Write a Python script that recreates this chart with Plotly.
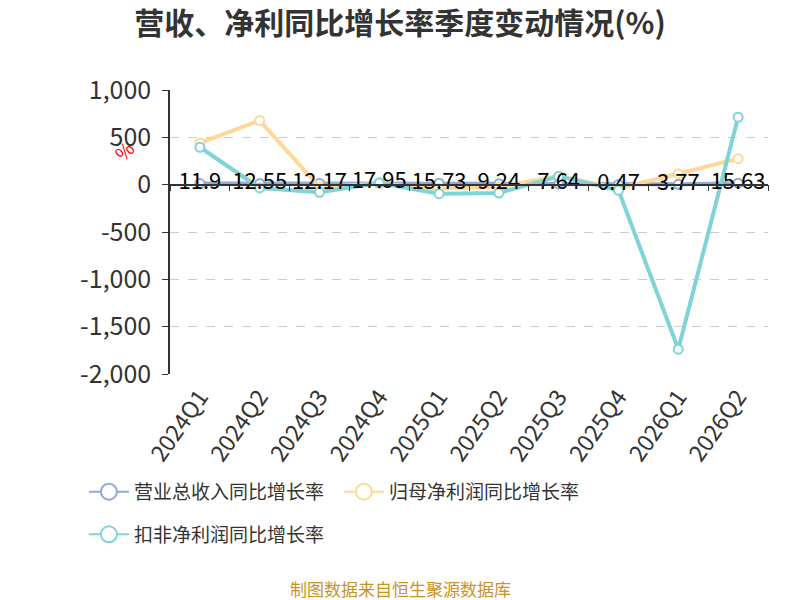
import plotly.graph_objects as go

# 数据
quarters = ["2024Q1", "2024Q2", "2024Q3", "2024Q4", "2025Q1",
            "2025Q2", "2025Q3", "2025Q4", "2026Q1", "2026Q2"]
revenue_yoy = [11.9, 12.55, 12.17, 17.95, 15.73, 9.24, 7.64, 0.47, 3.77, 15.63]
net_profit_yoy = [441, 677, -25, 10, -40, -25, 90, -40, 116, 275]
deducted_profit_yoy = [395, -35, -81, 18, -95, -88, 88, -60, -1738, 712]

y_ticks = [1000, 500, 0, -500, -1000, -1500, -2000]
y_ticktext = ["1,000", "500", "0", "-500", "-1,000", "-1,500", "-2,000"]

names = ["营业总收入同比增长率", "归母净利润同比增长率", "扣非净利润同比增长率"]
colors = ["#8eaadb", "#ffd796", "#80d3d7"]

FONT = "Noto Sans CJK SC"


def line_trace(y, color, **kw):
    return go.Scatter(
        x=quarters, y=y, mode="lines+markers", showlegend=False,
        line=dict(color=color, width=4),
        marker=dict(size=9, color="white", line=dict(color=color, width=2)),
        **kw,
    )


def legend_entry(name, color, legend="legend"):
    # 只用于图例的空系列（大号空心圆 + 细线）
    return go.Scatter(
        x=[None], y=[None], name=name, mode="lines+markers", legend=legend,
        line=dict(color=color, width=2),
        marker=dict(size=16, color="white", line=dict(color=color, width=2)),
    )


fig = go.Figure()
fig.add_trace(line_trace(revenue_yoy, colors[0]))
fig.add_trace(line_trace(net_profit_yoy, colors[1]))
# 第三条线画在 x2 上（x2 同时充当零线处的横轴）
fig.add_trace(line_trace(deducted_profit_yoy, colors[2], xaxis="x2"))
# 数据标签放在最上层
fig.add_trace(go.Scatter(
    x=quarters, y=revenue_yoy, mode="text", xaxis="x2", showlegend=False,
    text=[f"{v:g}" for v in revenue_yoy], textposition="middle center",
    textfont=dict(size=22, color="#000000", family=FONT),
    hoverinfo="skip",
))
fig.add_trace(legend_entry(names[0], colors[0]))
fig.add_trace(legend_entry(names[1], colors[1]))
fig.add_trace(legend_entry(names[2], colors[2], legend="legend2"))

legend_common = dict(
    orientation="h", xanchor="left", yanchor="middle",
    font=dict(size=19, color="#333333", family=FONT),
    itemwidth=40, itemsizing="trace", bgcolor="rgba(0,0,0,0)",
)

fig.update_layout(
    width=800, height=600,
    paper_bgcolor="white", plot_bgcolor="white",
    margin=dict(l=170, r=32, t=90, b=226, autoexpand=False),
    font=dict(family=FONT, color="#333333"),
    title=dict(text="<b>营收、净利同比增长率季度变动情况(%)</b>", x=0.5, xanchor="center",
               y=0.961, yanchor="middle", font=dict(size=30, color="#333333", family=FONT)),
    xaxis=dict(
        type="category", categoryorder="array", categoryarray=quarters,
        range=[-0.5, len(quarters) - 0.5], automargin=False,
        showline=False, showgrid=False, zeroline=False, ticks="",
        tickangle=-55, ticklabelstandoff=4,
        tickfont=dict(size=23, color="#333333", family=FONT),
    ),
    xaxis2=dict(
        type="category", categoryorder="array", categoryarray=quarters,
        range=[-0.5, len(quarters) - 0.5], automargin=False,
        overlaying="x", anchor="free", position=2 / 3,
        showline=True, linecolor="#333333", linewidth=1.5,
        ticks="outside", tickson="boundaries", ticklen=6, tickcolor="#333333",
        showticklabels=False, showgrid=False, zeroline=False,
    ),
    yaxis=dict(
        range=[-2000, 1000], tickvals=y_ticks, ticktext=y_ticktext, automargin=False,
        showline=True, linecolor="#333333", linewidth=1.5,
        ticks="outside", ticklen=6, tickcolor="#333333", ticklabelstandoff=6,
        showgrid=True, gridcolor="#cccccc", griddash="dash", gridwidth=1,
        zeroline=False,
        tickfont=dict(size=25, color="#333333", family=FONT),
    ),
    legend=dict(x=-0.144, y=-0.415, entrywidth=200, **legend_common),
    legend2=dict(x=-0.144, y=-0.565, **legend_common),
)

fig.add_annotation(
    text="%", xref="paper", yref="paper", x=-0.109, y=0.853,
    showarrow=False, textangle=-45, font=dict(size=19, color="red", family=FONT),
)
fig.add_annotation(
    text="制图数据来自恒生聚源数据库", xref="paper", yref="paper", x=0.385, y=-0.755,
    xanchor="center", yanchor="middle", showarrow=False,
    font=dict(size=17, color="#c8931f", family=FONT),
)

# 去掉页面默认边距，让图表贴齐窗口左上角
fig.write_html("out.html", config={"displayModeBar": False},
               post_script="document.body.style.margin='0';")
